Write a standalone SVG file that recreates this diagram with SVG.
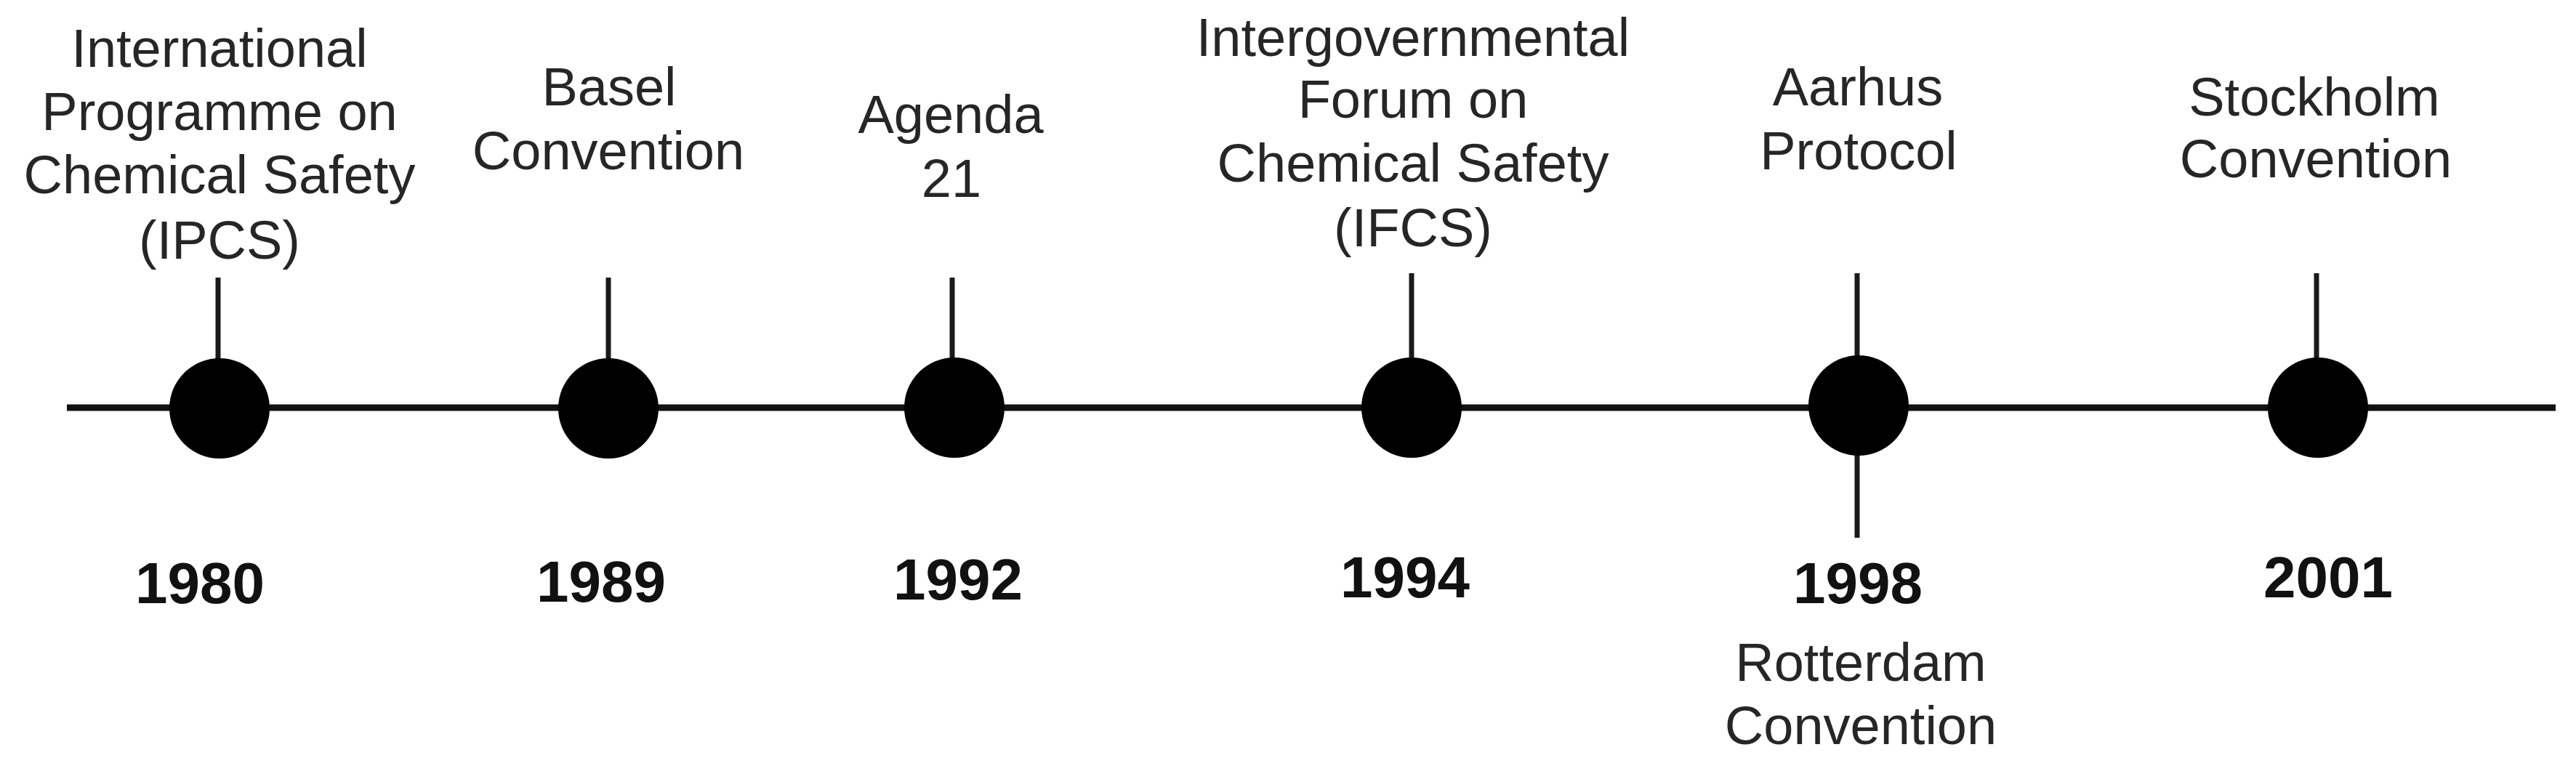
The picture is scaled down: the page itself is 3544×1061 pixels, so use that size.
<svg xmlns="http://www.w3.org/2000/svg" width="3544" height="1061" viewBox="0 0 3544 1061">
<style>
.lbl{font-family:"Liberation Sans",Arial,sans-serif;font-size:74px;fill:#262626;text-anchor:middle}
.yr{font-family:"Liberation Sans",Arial,sans-serif;font-size:80px;font-weight:bold;fill:#111;text-anchor:middle}
.axis{stroke:#111;stroke-width:9;fill:none}
.tick{stroke:#1a1a1a;stroke-width:7;fill:none}
.dot{fill:#000}
</style>
<rect width="3544" height="1061" fill="#fff"/>
<g id="connectors">
<line class="axis" x1="92" y1="561" x2="3516" y2="561"/>
<line class="tick" x1="300" y1="382" x2="300" y2="500"/>
<line class="tick" x1="837" y1="382" x2="837" y2="500"/>
<line class="tick" x1="1310" y1="382" x2="1310" y2="500"/>
<line class="tick" x1="1942" y1="376" x2="1942" y2="500"/>
<line class="tick" x1="2555" y1="376" x2="2555" y2="500"/>
<line class="tick" x1="2555" y1="620" x2="2555" y2="740"/>
<line class="tick" x1="3187" y1="376" x2="3187" y2="500"/>
</g>
<g id="n1980">
<circle class="dot" cx="302" cy="562" r="69"/>
<text class="lbl" x="302" y="92">International</text>
<text class="lbl" x="302" y="179">Programme on</text>
<text class="lbl" x="302" y="266">Chemical Safety</text>
<text class="lbl" x="302" y="356">(IPCS)</text>
<text class="yr" x="275" y="830">1980</text>
</g>
<g id="n1989">
<circle class="dot" cx="837" cy="562" r="69"/>
<text class="lbl" x="838" y="145">Basel</text>
<text class="lbl" x="837" y="233">Convention</text>
<text class="yr" x="827" y="828">1989</text>
</g>
<g id="n1992">
<circle class="dot" cx="1313" cy="561" r="69"/>
<text class="lbl" x="1308" y="183">Agenda</text>
<text class="lbl" x="1309" y="271">21</text>
<text class="yr" x="1318" y="825">1992</text>
</g>
<g id="n1994">
<circle class="dot" cx="1942" cy="561" r="69"/>
<text class="lbl" x="1944" y="77">Intergovernmental</text>
<text class="lbl" x="1944" y="162">Forum on</text>
<text class="lbl" x="1944" y="250">Chemical Safety</text>
<text class="lbl" x="1944" y="339">(IFCS)</text>
<text class="yr" x="1933" y="822">1994</text>
</g>
<g id="n1998">
<circle class="dot" cx="2557" cy="558" r="69"/>
<text class="lbl" x="2556" y="145">Aarhus</text>
<text class="lbl" x="2557" y="233">Protocol</text>
<text class="yr" x="2556" y="830">1998</text>
<text class="lbl" x="2560" y="937">Rotterdam</text>
<text class="lbl" x="2560" y="1024">Convention</text>
</g>
<g id="n2001">
<circle class="dot" cx="3189" cy="561" r="69"/>
<text class="lbl" x="3184" y="159">Stockholm</text>
<text class="lbl" x="3186" y="244">Convention</text>
<text class="yr" x="3203" y="822">2001</text>
</g>
</svg>
